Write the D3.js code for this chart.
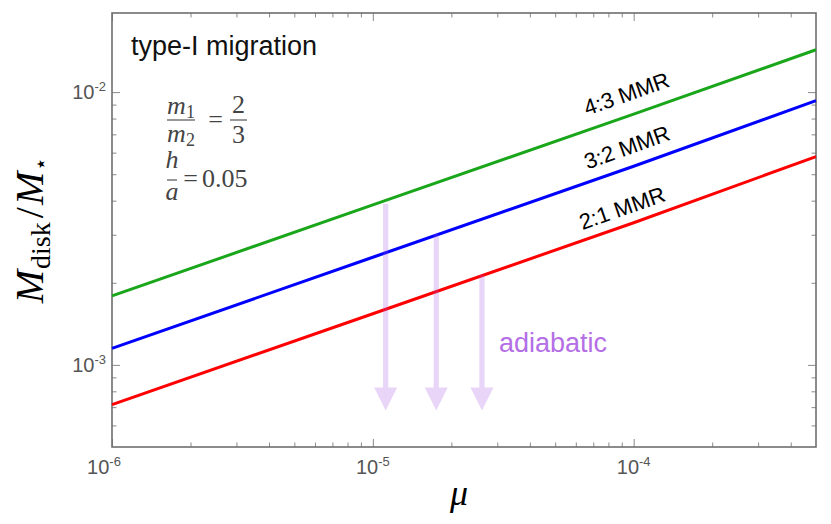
<!DOCTYPE html>
<html>
<head>
<meta charset="utf-8">
<script src="https://cdn.jsdelivr.net/npm/d3@7"></script>
<style>
body { margin: 0; background: #fff; }
svg { display: block; }
.tick-label { font-family: "Liberation Sans", Arial, sans-serif; fill: #555; }
.sans { font-family: "Liberation Sans", Arial, sans-serif; }
.serif { font-family: "Liberation Serif", "Times New Roman", serif; }
</style>
</head>
<body>
<div id="chart"></div>
<script>
// mu values where the curves were read
var mu = [1e-6, 1e-5, 1e-4, 5e-4];
// M_disk / M_star for each resonance
var mmr43 = [1.79e-3, 3.86e-3, 8.3e-3, 1.43e-2];
var mmr32 = [1.15e-3, 2.48e-3, 5.35e-3, 9.3e-3];
var mmr21 = [7.15e-4, 1.54e-3, 3.32e-3, 5.8e-3];
var seriesNames = ["4:3 MMR", "3:2 MMR", "2:1 MMR"];
var seriesColors = ["#1aa61a", "#0000ff", "#ff0000"];
// where the labels sit along each curve (mu)
var labelMu = [1e-4, 1e-4, 0.95e-4];

// adiabatic arrows: mu, start (on curve), end
var arrowMu = [1.12e-5, 1.75e-5, 2.62e-5];
var arrowFrom = [3.9e-3, 3.02e-3, 2.14e-3];
var arrowTo = [6.8e-4, 6.8e-4, 6.8e-4];

var xMajor = [1e-6, 1e-5, 1e-4];
var xMajorExp = ["-6", "-5", "-4"];
var yMajor = [1e-3, 1e-2];
var yMajorExp = ["-3", "-2"];

var width = 831, height = 524;
var pLeft = 112, pRight = 816, pTop = 13, pBottom = 447;

var svg = d3.select("#chart").append("svg")
    .attr("width", width)
    .attr("height", height);

var x = d3.scaleLog().domain([1e-6, 5e-4]).range([pLeft, pRight]);
var y = d3.scaleLog().domain([5e-4, 1.95e-2]).range([pBottom, pTop]);

// minor ticks: 2..9 in every decade inside the domain
function minors(scale) {
    var d = scale.domain(), out = [];
    for (var e = -7; e <= 0; e++) {
	for (var k = 2; k <= 9; k++) {
	    var v = k * Math.pow(10, e);
	    if (v > d[0] * 1.0001 && v < d[1] * 0.9999) out.push(v);
	}
    }
    return out;
}

var tickColor = "#8a8a8a";
var axes = svg.append("g");

function drawTicks(axisFn, scale, vals, len, transform) {
    axes.append("g")
	.attr("transform", transform)
	.call(axisFn(scale).tickValues(vals).tickSize(len).tickFormat(""))
	.call(function(g) {
	    g.select(".domain").remove();
	    g.selectAll("line").attr("stroke", tickColor).attr("stroke-width", 1);
	});
}

// inward ticks on all four sides
drawTicks(d3.axisBottom, x, xMajor, -8, "translate(0," + pBottom + ")");
drawTicks(d3.axisBottom, x, minors(x), -4.5, "translate(0," + pBottom + ")");
drawTicks(d3.axisTop, x, xMajor, -8, "translate(0," + pTop + ")");
drawTicks(d3.axisTop, x, minors(x), -4.5, "translate(0," + pTop + ")");
drawTicks(d3.axisLeft, y, yMajor, -8, "translate(" + pLeft + ",0)");
drawTicks(d3.axisLeft, y, minors(y), -4.5, "translate(" + pLeft + ",0)");
drawTicks(d3.axisRight, y, yMajor, -8, "translate(" + pRight + ",0)");
drawTicks(d3.axisRight, y, minors(y), -4.5, "translate(" + pRight + ",0)");

// frame
svg.append("rect")
    .attr("x", pLeft).attr("y", pTop)
    .attr("width", pRight - pLeft).attr("height", pBottom - pTop)
    .attr("fill", "none")
    .attr("stroke", "#6e6e6e")
    .attr("stroke-width", 1.6);

// tick labels 10^n (the first one sits a little left of its tick, as in the original)
xMajor.forEach(function(v, i) {
    var t = svg.append("text")
	.attr("class", "tick-label")
	.attr("x", x(v) - (i === 0 ? 8 : 0))
	.attr("y", 474)
	.attr("text-anchor", "middle")
	.attr("font-size", 20);
    t.append("tspan").text("10");
    t.append("tspan").attr("font-size", 13).attr("dy", -8).text(xMajorExp[i]);
});
yMajor.forEach(function(v, i) {
    var t = svg.append("text")
	.attr("class", "tick-label")
	.attr("x", pLeft - 6)
	.attr("y", y(v) + 7)
	.attr("text-anchor", "end")
	.attr("font-size", 20);
    t.append("tspan").text("10");
    t.append("tspan").attr("font-size", 13).attr("dy", -8).text(yMajorExp[i]);
});

// curves
var line = d3.line()
    .x(function(d) { return x(d[0]); })
    .y(function(d) { return y(d[1]); });

var series = [mmr43, mmr32, mmr21];
var plot = svg.append("g");
series.forEach(function(vals, i) {
    plot.append("path")
	.datum(mu.map(function(m, j) { return [m, vals[j]]; }))
	.attr("d", line)
	.attr("fill", "none")
	.attr("stroke", seriesColors[i])
	.attr("stroke-width", 3);
});

// curve labels, rotated along the line
var labelOffset = [14, 12.5, 10];
series.forEach(function(vals, i) {
    var m = labelMu[i];
    // position on the straight log-log segment that holds m
    var j = d3.bisectRight(mu, m) - 1;
    var t = (Math.log(m) - Math.log(mu[j])) / (Math.log(mu[j + 1]) - Math.log(mu[j]));
    var v = Math.exp(Math.log(vals[j]) + t * (Math.log(vals[j + 1]) - Math.log(vals[j])));
    var p1 = [x(mu[j]), y(vals[j])], p2 = [x(mu[j + 1]), y(vals[j + 1])];
    var ang = Math.atan2(p2[1] - p1[1], p2[0] - p1[0]) * 180 / Math.PI;
    svg.append("text")
	.attr("class", "sans")
	.attr("transform", "translate(" + x(m) + "," + y(v) + ") rotate(" + ang + ")")
	.attr("y", -labelOffset[i])
	.attr("text-anchor", "middle")
	.attr("font-size", 22)
	.attr("fill", "#000")
	.text(seriesNames[i]);
});

// adiabatic arrows
var shaft = 2.6, headW = 11.5, headL = 23;
arrowMu.forEach(function(m, i) {
    var cx = x(m), y0 = y(arrowFrom[i]), y1 = y(arrowTo[i]);
    var yh = y1 - headL;
    var d = "M" + (cx - shaft) + "," + y0 +
	"L" + (cx + shaft) + "," + y0 +
	"L" + (cx + shaft) + "," + yh +
	"L" + (cx + headW) + "," + yh +
	"L" + cx + "," + y1 +
	"L" + (cx - headW) + "," + yh +
	"L" + (cx - shaft) + "," + yh + "Z";
    svg.append("path")
	.attr("d", d)
	.attr("fill", "#a050e0")
	.attr("fill-opacity", 0.24);
});

svg.append("text")
    .attr("class", "sans")
    .attr("x", 499).attr("y", 352)
    .attr("font-size", 27)
    .attr("fill", "#b46ee6")
    .text("adiabatic");

svg.append("text")
    .attr("class", "sans")
    .attr("x", 131).attr("y", 55)
    .attr("font-size", 27)
    .attr("fill", "#111")
    .text("type-I migration");

// parameters block
var eq = svg.append("g").attr("class", "serif").attr("fill", "#444").attr("font-size", 26);
function bar(x1, x2, yy) {
    eq.append("line")
	.attr("x1", x1).attr("x2", x2)
	.attr("y1", yy).attr("y2", yy)
	.attr("stroke", "#444").attr("stroke-width", 1.1);
}
function sym(cx, yy, s, italic, sub) {
    var t = eq.append("text").attr("x", cx).attr("y", yy)
	.attr("text-anchor", "middle");
    t.append("tspan").attr("font-style", italic ? "italic" : "normal").text(s);
    if (sub) t.append("tspan").attr("font-size", 18).attr("dy", 4).text(sub);
    return t;
}
bar(167, 195, 120);
sym(181, 113.5, "m", true, "1");
sym(181, 142, "m", true, "2");
sym(215.5, 128, "=");
bar(230, 247, 120);
sym(238.5, 113, "2");
sym(238.5, 143, "3");
bar(167, 177, 180);
sym(172, 168, "h", true);
sym(172, 200, "a", true);
sym(190.5, 187, "=");
eq.append("text").attr("x", 202).attr("y", 187).text("0.05");

// axis titles
var yl = svg.append("text")
    .attr("class", "serif")
    .attr("transform", "translate(43,230) rotate(-90)")
    .attr("text-anchor", "middle")
    .attr("font-size", 40)
    .attr("fill", "#000");
yl.append("tspan").attr("font-style", "italic").text("M");
yl.append("tspan").attr("font-size", 28).attr("dy", 7).attr("dx", 1).text("disk");
yl.append("tspan").attr("dy", -7).attr("dx", 4).text("/");
yl.append("tspan").attr("font-style", "italic").attr("dx", 2).text("M");
yl.append("tspan").attr("font-size", 22).attr("dy", 5).attr("dx", 1).text("\u22c6");

svg.append("text")
    .attr("class", "serif")
    .attr("x", 459).attr("y", 505)
    .attr("text-anchor", "middle")
    .attr("font-size", 36)
    .attr("font-style", "italic")
    .attr("fill", "#000")
    .text("\u03bc");
</script>
</body>
</html>
